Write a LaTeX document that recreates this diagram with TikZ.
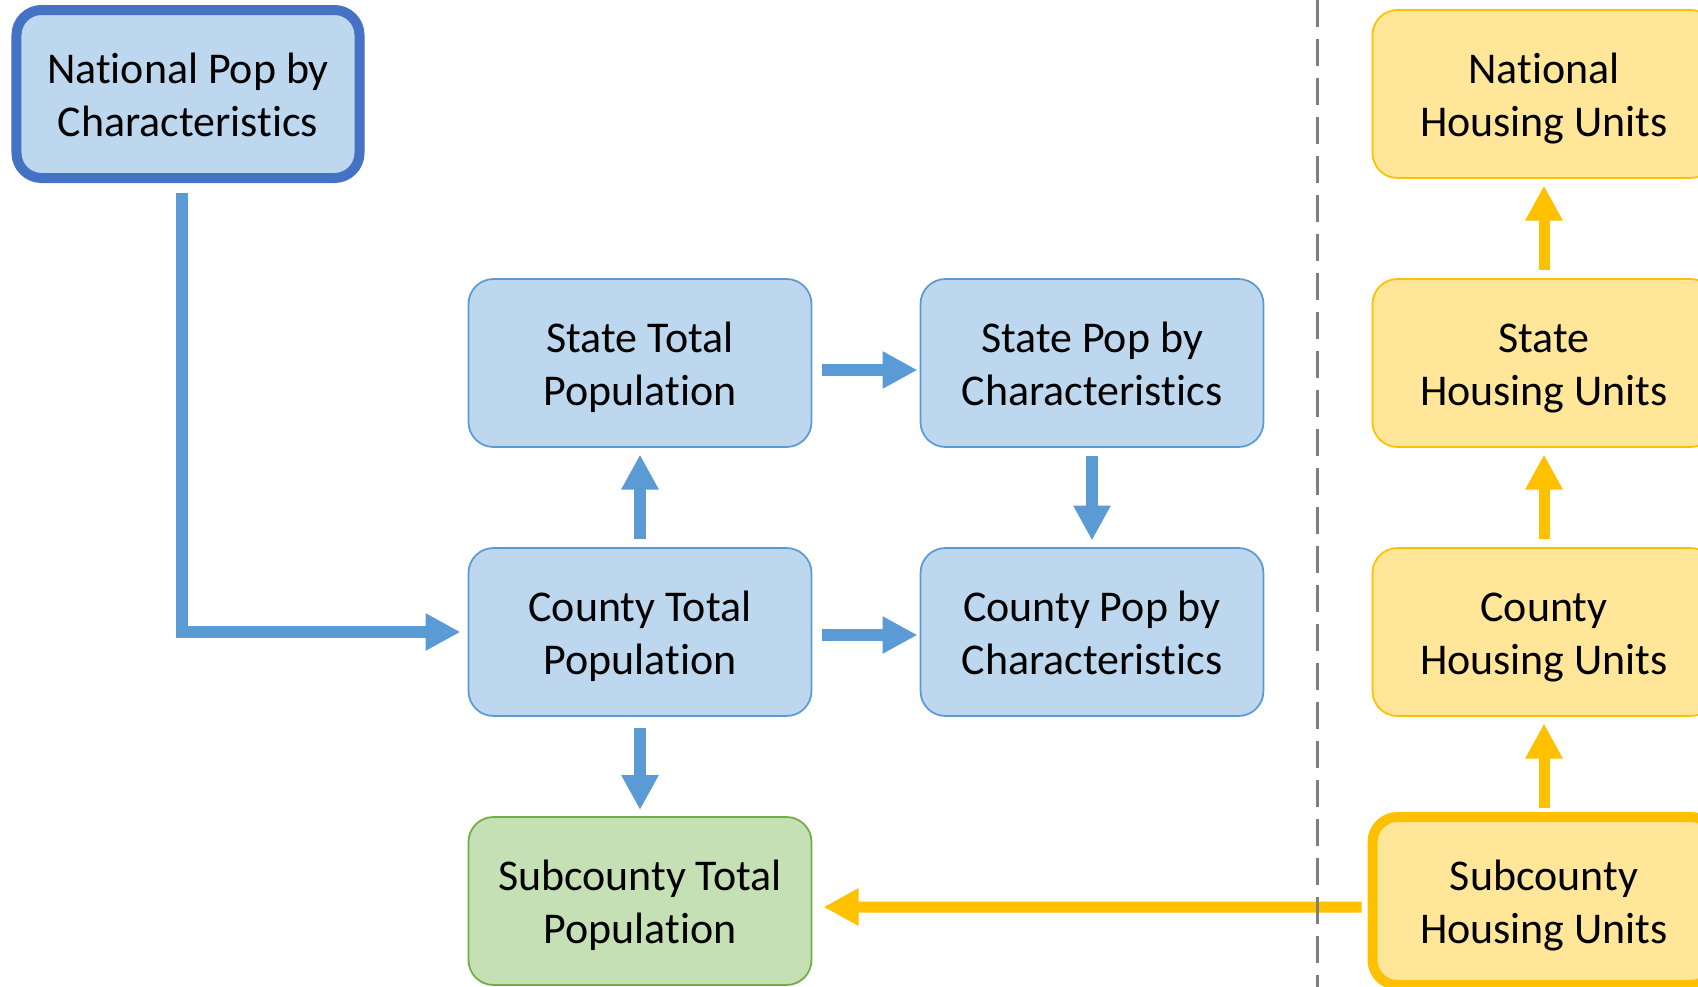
\documentclass[tikz,border=0pt]{standalone}
\usepackage{fontspec}
\setmainfont{Carlito}[Ligatures=NoCommon]
\usepackage{xcolor}
\usetikzlibrary{positioning,arrows.meta}

\definecolor{popfill}{HTML}{BDD7EE}
\definecolor{popline}{HTML}{5B9BD5}
\definecolor{natline}{HTML}{4472C4}
\definecolor{subfill}{HTML}{C5E0B4}
\definecolor{subline}{HTML}{70AD47}
\definecolor{hufill}{HTML}{FFE699}
\definecolor{huline}{HTML}{FFC000}
\definecolor{divgray}{HTML}{7F7F7F}

% two centred lines, second baseline a fixed distance below the box centre
\newcommand{\boxtext}[2]{\raisebox{0pt}[57.8pt][10pt]{\begin{tabular}[b]{@{}c@{}}#1\\#2\end{tabular}}}

\begin{document}
\begin{tikzpicture}[
  node distance=5.38cm and 9.04cm, on grid,
  popbox/.style={rectangle, rounded corners=0.5cm, draw=popline, fill=popfill, line width=1pt,
                 outer sep=0pt, minimum width=6.86cm, minimum height=3.36cm,
                 font=\fontsize{25}{30}\selectfont},
  subbox/.style={popbox, draw=subline, fill=subfill},
  hubox/.style={popbox, draw=huline, fill=hufill},
  heavy/.style={line width=0.2cm},
  bluearrow/.style={draw=popline, line width=0.24cm, -{Triangle[length=0.7cm,width=0.7cm]}},
  goldarrow/.style={draw=huline, line width=0.22cm, -{Triangle[length=0.7cm,width=0.7cm]}},
  vgap/.style={shorten <=0.18cm, shorten >=0.15cm},
  hgap/.style={shorten <=0.2cm, shorten >=0.06cm}
]
  \useasboundingbox (0,0) rectangle (33.96,-19.74);
  \clip (0,0) rectangle (33.96,-19.74);

  % population side
  \node[popbox, heavy, draw=natline] (NPC) at (3.76,-1.88) {\boxtext{National Pop by}{Characteristics}};
  \node[popbox] (STP) at (12.8,-7.26) {\boxtext{State Total}{Population}};
  \node[popbox] (SPC) [right=of STP] {\boxtext{State Pop by}{Characteristics}};
  \node[popbox] (CTP) [below=of STP] {\boxtext{County Total}{Population}};
  \node[popbox] (CPC) [below=of SPC] {\boxtext{County Pop by}{Characteristics}};
  \node[subbox] (STOT) [below=of CTP] {\boxtext{Subcounty Total}{Population}};

  % housing side
  \node[hubox] (NHU) at (30.88,-1.88) {\boxtext{National}{Housing Units}};
  \node[hubox] (SHU) [below=of NHU] {\boxtext{State}{Housing Units}};
  \node[hubox] (CHU) [below=of SHU] {\boxtext{County}{Housing Units}};
  \node[hubox, heavy] (SUBHU) [below=of CHU] {\boxtext{Subcounty}{Housing Units}};

  \draw[bluearrow, shorten <=0.3cm, shorten >=0.16cm] ([xshift=-0.12cm]NPC.south) |- (CTP);
  \draw[bluearrow, hgap] ([yshift=-0.14cm]STP.east) -- ([yshift=-0.14cm]SPC.west);
  \draw[bluearrow, hgap] ([yshift=-0.06cm]CTP.east) -- ([yshift=-0.06cm]CPC.west);
  \draw[bluearrow, vgap] (CTP) -- (STP);
  \draw[bluearrow, vgap] (SPC) -- (CPC);
  \draw[bluearrow, shorten <=0.24cm, shorten >=0.14cm] (CTP) -- (STOT);

  \draw[goldarrow, vgap] (SUBHU) -- (CHU);
  \draw[goldarrow, vgap] (CHU) -- (SHU);
  \draw[goldarrow, vgap] (SHU) -- (NHU);
  \draw[goldarrow, shorten <=0.22cm, shorten >=0.24cm] ([yshift=-0.12cm]SUBHU.west) -- ([yshift=-0.12cm]STOT.east);

  % divider
  \coordinate (divtop) at (26.34,0);
  \coordinate (divbot) at (26.34,-19.74);
  \draw[divgray, line width=0.06cm, dash pattern=on 0.54cm off 0.24cm] (divtop) -- (divbot);
\end{tikzpicture}
\end{document}
